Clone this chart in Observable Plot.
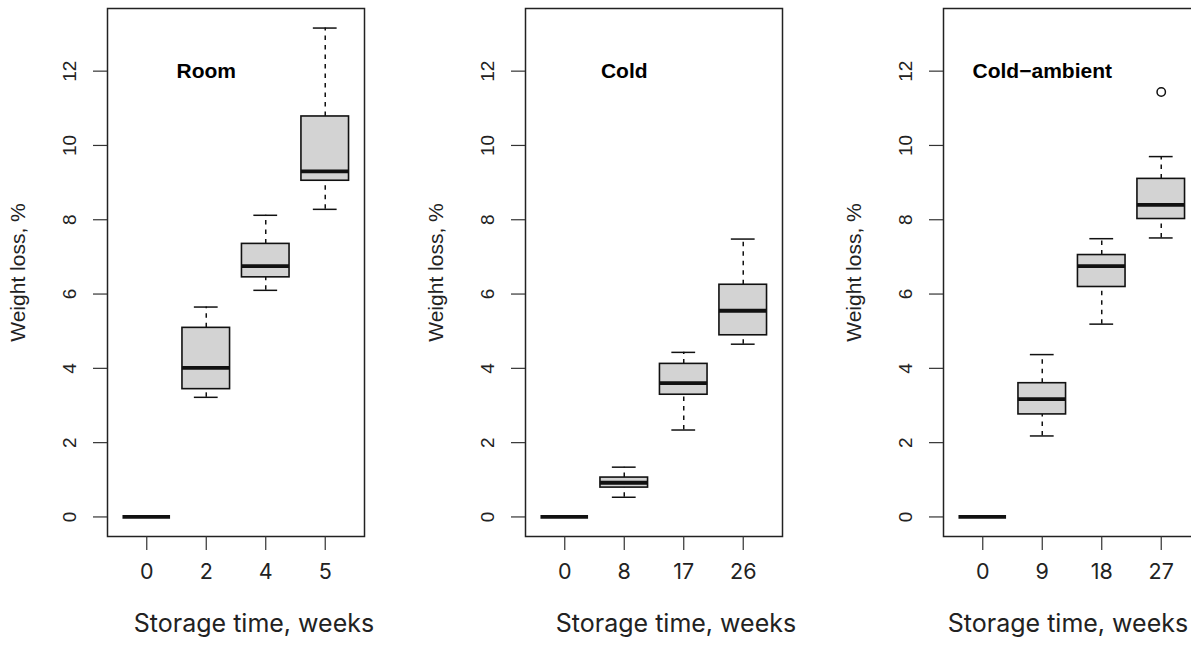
<!DOCTYPE html>
<html>
<head>
<meta charset="utf-8">
<script src="https://cdn.jsdelivr.net/npm/d3@7"></script>
<script src="https://cdn.jsdelivr.net/npm/@observablehq/plot@0.6"></script>
<style>
html, body { margin: 0; padding: 0; background: #fff; overflow: hidden; }
#wrap { position: relative; width: 1191px; height: 648px; overflow: hidden; background: #fff; }
.panel { position: absolute; top: 0; }
</style>
</head>
<body>
<div id="wrap"></div>
<script>
// ---- Data ----
const panelTitles = ["Room", "Cold", "Cold\u2212ambient"];
const xTitle = "Storage time, weeks";
const yTitle = "Weight loss, %";
const yTicks = [0, 2, 4, 6, 8, 10, 12];

const roomWeeks = ["0", "2", "4", "5"];
const roomLow   = [0, 3.22, 6.10, 8.28];
const roomQ1    = [0, 3.44, 6.45, 9.05];
const roomMed   = [0, 4.01, 6.75, 9.30];
const roomQ3    = [0, 5.09, 7.35, 10.78];
const roomHigh  = [0, 5.65, 8.12, 13.16];
const roomOutWeek = [];
const roomOutVal  = [];

const coldWeeks = ["0", "8", "17", "26"];
const coldLow   = [0, 0.53, 2.34, 4.65];
const coldQ1    = [0, 0.79, 3.29, 4.89];
const coldMed   = [0, 0.92, 3.60, 5.55];
const coldQ3    = [0, 1.06, 4.12, 6.25];
const coldHigh  = [0, 1.34, 4.43, 7.48];
const coldOutWeek = [];
const coldOutVal  = [];

const ambWeeks = ["0", "9", "18", "27"];
const ambLow   = [0, 2.18, 5.19, 7.51];
const ambQ1    = [0, 2.76, 6.19, 8.02];
const ambMed   = [0, 3.17, 6.75, 8.40];
const ambQ3    = [0, 3.60, 7.05, 9.10];
const ambHigh  = [0, 4.37, 7.49, 9.70];
const ambOutWeek = ["27"];
const ambOutVal  = [11.44];

// ---- Build ----
const panels = [
  {title: panelTitles[0], weeks: roomWeeks, low: roomLow, q1: roomQ1, med: roomMed, q3: roomQ3, high: roomHigh, outW: roomOutWeek, outV: roomOutVal, left: 0, titleDx: 18},
  {title: panelTitles[1], weeks: coldWeeks, low: coldLow, q1: coldQ1, med: coldMed, q3: coldQ3, high: coldHigh, outW: coldOutWeek, outV: coldOutVal, left: 417.7, titleDx: 22},
  {title: panelTitles[2], weeks: ambWeeks, low: ambLow, q1: ambQ1, med: ambMed, q3: ambQ3, high: ambHigh, outW: ambOutWeek, outV: ambOutVal, left: 835.7, titleDx: -4}
];

// R-style limits: data range padded by 4%
const allVals = panels.flatMap(p => [...p.low, ...p.high, ...p.outV]);
const yMin = d3.min(allVals), yMax = d3.max(allVals);
const yPad = (yMax - yMin) * 0.04;
const yDomain = [yMin - yPad, yMax + yPad];
const xDomain = [0.5 - 0.16, 4.5 + 0.16];

const ink = "#111";
const fontR = "'Liberation Sans', Arial, sans-serif";
const fontW = "Inter, 'Open Sans', sans-serif";

const wrap = document.getElementById("wrap");

panels.forEach(p => {
  const rows = p.weeks.map((w, k) => ({
    x: k + 1, label: w, low: p.low[k], q1: p.q1[k], med: p.med[k], q3: p.q3[k], high: p.high[k]
  }));
  const outs = p.outW.map((w, k) => ({x: p.weeks.indexOf(w) + 1, v: p.outV[k]}));
  const whisk = {stroke: ink, strokeWidth: 1.5, strokeDasharray: "4.5,5"};
  const cap = {stroke: ink, strokeWidth: 1.5};

  const chart = Plot.plot({
    width: 390,
    height: 648,
    marginLeft: 107,
    marginRight: 26,
    marginTop: 8,
    marginBottom: 112,
    style: {background: "transparent", overflow: "visible", fontFamily: fontR, color: ink},
    x: {domain: xDomain, axis: null, label: null},
    y: {domain: yDomain, axis: null, label: null},
    marks: [
      // whiskers
      Plot.ruleX(rows.filter(d => d.high > d.q3), {x: "x", y1: "q3", y2: "high", ...whisk}),
      Plot.ruleX(rows.filter(d => d.low < d.q1), {x: "x", y1: "low", y2: "q1", ...whisk}),
      // staples
      Plot.ruleY(rows, {y: "high", x1: d => d.x - 0.2, x2: d => d.x + 0.2, ...cap}),
      Plot.ruleY(rows, {y: "low", x1: d => d.x - 0.2, x2: d => d.x + 0.2, ...cap}),
      // boxes
      Plot.rect(rows, {x1: d => d.x - 0.4, x2: d => d.x + 0.4, y1: "q1", y2: "q3", fill: "#d3d3d3", stroke: ink, strokeWidth: 1.6}),
      // medians
      Plot.ruleY(rows, {y: "med", x1: d => d.x - 0.4, x2: d => d.x + 0.4, stroke: ink, strokeWidth: 3.8}),
      // outliers
      Plot.dot(outs, {x: "x", y: "v", r: 4.2, stroke: ink, strokeWidth: 1.5, fill: "none"}),
      // frame
      Plot.frame({stroke: "#222", strokeWidth: 1.5}),
      // y axis ticks
      Plot.axisY({ticks: yTicks, tickSize: 14, tickFormat: () => "", label: null, color: "#333", strokeWidth: 1.2}),
      // y tick labels (rotated, R style)
      Plot.text(yTicks, {y: d => d, text: d => String(d), frameAnchor: "left", textAnchor: "middle", rotate: -90, dx: -38, fontSize: 19, fontFamily: fontR, fill: "#222"}),
      // y title
      Plot.text([yTitle], {frameAnchor: "left", textAnchor: "middle", text: d => d, rotate: -90, dx: -89, fontSize: 21, fontFamily: fontR, fill: "#222"}),
      // x axis ticks
      Plot.axisX({ticks: rows.map(d => d.x), tickSize: 14, tickFormat: () => "", label: null, color: "#333", strokeWidth: 1.2}),
      // x tick labels
      Plot.text(rows, {x: "x", text: "label", frameAnchor: "bottom", dy: 42, fontSize: 21.5, fontFamily: fontW, fill: "#222"}),
      // x title
      Plot.text([xTitle], {frameAnchor: "bottom", text: d => d, dy: 95, dx: p.titleDx, fontSize: 25, fontFamily: fontW, fill: "#222"}),
      // panel title
      Plot.text([p.title], {x: 2, y: yTicks[yTicks.length - 1], text: d => d, fontSize: 21, fontWeight: "bold", fontFamily: fontR, fill: "#000"})
    ]
  });
  chart.classList.add("panel");
  chart.style.left = p.left + "px";
  wrap.appendChild(chart);
});
</script>
</body>
</html>
